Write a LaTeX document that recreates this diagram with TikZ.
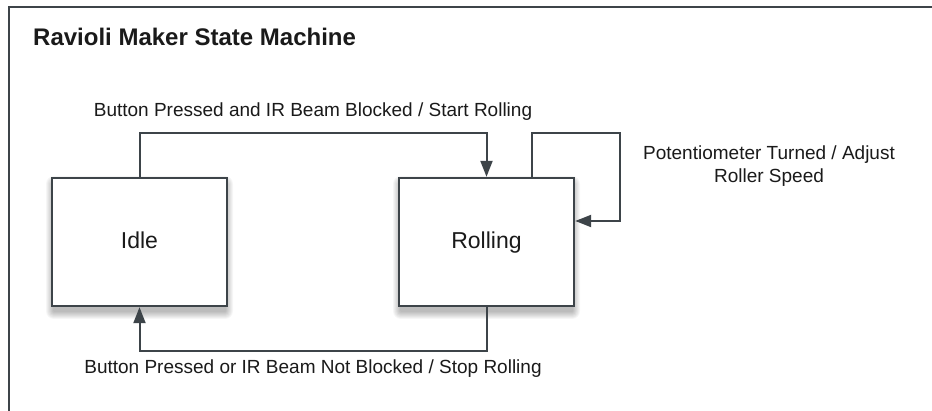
\documentclass[tikz,border=0pt]{standalone}
\usepackage{fontspec}
\setmainfont{Liberation Sans}
\usetikzlibrary{arrows.meta}
\definecolor{edgegray}{HTML}{3D4449}
\definecolor{inkcol}{HTML}{1A1A1A}
\begin{document}
\begin{tikzpicture}[x=1pt,y=-1pt,
  state/.style={draw=edgegray, line width=2.4pt, fill=white, minimum width=175pt,
    minimum height=128pt, inner sep=0pt, text height=16.5pt, text depth=2.5pt,
    text=inkcol, font=\fontsize{23}{27}\selectfont},
  trans/.style={draw=edgegray, line width=2pt, -{Triangle[length=16pt,width=12pt]}},
  lbl/.style={font=\fontsize{19}{23}\selectfont, text=inkcol, align=center, inner sep=0pt},
  frameline/.style={draw=edgegray, line width=2pt}]
\useasboundingbox (0,0) rectangle (932,411);
\clip (0,0) rectangle (932,411);
\fill[white] (0,0) rectangle (932,411);
% outer frame, open to the right and bottom
\draw[frameline] (934,7) -- (9,7) -- (9,413);
\node[font=\bfseries\fontsize{24}{28}\selectfont, text=inkcol, anchor=west, inner sep=0pt]
  (title) at (33,37) {Ravioli Maker State Machine};
% soft shadows under the state boxes
\foreach \cx in {139.5,486.5}{
  \foreach \r in {1,...,8}{
    \fill[black, opacity=0.035, rounded corners=\r pt]
      (\cx-87.5-\r+2, 178-\r+6) rectangle (\cx+87.5+\r-2, 306+\r+5);
  }
}
\node[state] (idle) at (139.5,242) {Idle};
\node[state] (rolling) at (486.5,242) {Rolling};
% transitions
\draw[trans] (idle.north) -- ++(0,-44) -| (rolling.north);
\draw[trans] ([xshift=-43pt]rolling.north east) -- ++(0,-44) -- ++(88,0)
  |- ([yshift=21pt]rolling.east);
\draw[trans] (rolling.south) -- ++(0,44) -| (idle.south);
% transition labels
\node[lbl] (lstart) at (313,112) {Button Pressed and IR Beam Blocked / Start Rolling};
\node[lbl] (lspeed) at (769,166) {Potentiometer Turned / Adjust\\Roller Speed};
\node[lbl] (lstop) at (313,369) {Button Pressed or IR Beam Not Blocked / Stop Rolling};
\end{tikzpicture}
\end{document}
